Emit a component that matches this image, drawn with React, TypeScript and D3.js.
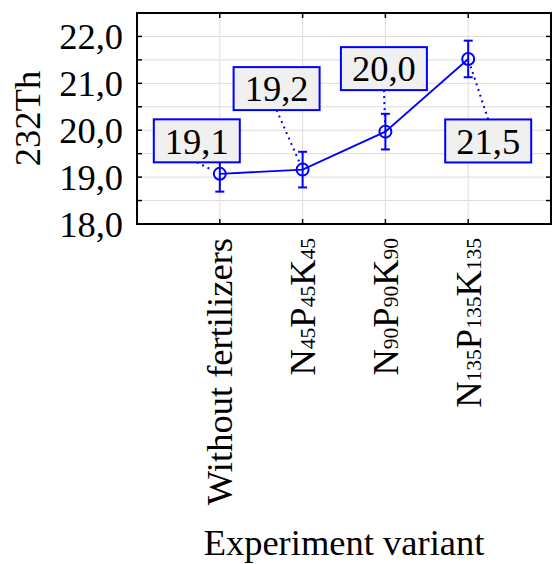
import React from "react";
import * as d3 from "d3";

// values
const categories = ["Without fertilizers", "N45P45K45", "N90P90K90", "N135P135K135"];
const means = [19.07, 19.16, 19.97, 21.52];
const upper = [19.45, 19.54, 20.35, 21.91];
const lower = [18.69, 18.78, 19.59, 21.13];
const labels = ["19,1", "19,2", "20,0", "21,5"];
const yTicks = [18, 19, 20, 21, 22];
const yMinor = [18.5, 19.5, 20.5, 21.5, 22.5];

// label box offset from its point, px
const labelOffsets: [number, number][] = [
  [-23, -33],
  [-26, -81],
  [-1.5, -63],
  [20, 82],
];

// subscript pieces for rotated tick labels
const tickParts: [string, boolean][][] = [
  [["Without fertilizers", false]],
  [["N", false], ["45", true], ["P", false], ["45", true], ["K", false], ["45", true]],
  [["N", false], ["90", true], ["P", false], ["90", true], ["K", false], ["90", true]],
  [["N", false], ["135", true], ["P", false], ["135", true], ["K", false], ["135", true]],
];

const W = 552;
const H = 564;
const m = { left: 137, top: 13, right: 551, bottom: 224 };
const BLUE = "#0000ff";
const FONT = "'Liberation Serif', 'Times New Roman', serif";
const FS = 36.5;

export default function App() {
  const x = d3.scaleLinear().domain([0, categories.length + 1]).range([m.left, m.right]);
  const y = d3.scaleLinear().domain([18, 22.5]).range([m.bottom, m.top]);
  const line = d3
    .line<number>()
    .x((_, i) => x(i + 1))
    .y((d) => y(d));
  const boxW = 86;
  const boxH = 43;
  const r = 6;

  return (
    <svg
      width={W}
      height={H}
      style={{ position: "absolute", left: 0, top: 0, fontFamily: FONT }}
    >
      <rect width={W} height={H} fill="#fff" />
      {/* grid */}
      {[...yTicks, ...yMinor].map((v) => (
        <line key={"gy" + v} x1={m.left} x2={m.right} y1={y(v)} y2={y(v)} stroke="#dcdcdc" strokeWidth={1} />
      ))}
      {categories.map((c, i) => (
        <line key={"gx" + c} x1={x(i + 1)} x2={x(i + 1)} y1={m.top} y2={m.bottom} stroke="#dcdcdc" strokeWidth={1} />
      ))}
      {/* inward ticks */}
      {[...yTicks, ...yMinor].map((v) => (
        <g key={"t" + v}>
          <line x1={m.left} x2={m.left + 5} y1={y(v)} y2={y(v)} stroke="#000" strokeWidth={1.5} />
          <line x1={m.right} x2={m.right - 5} y1={y(v)} y2={y(v)} stroke="#000" strokeWidth={1.5} />
        </g>
      ))}
      {categories.map((c, i) => (
        <g key={"tx" + c}>
          <line x1={x(i + 1)} x2={x(i + 1)} y1={m.top} y2={m.top + 5} stroke="#000" strokeWidth={1.5} />
          <line x1={x(i + 1)} x2={x(i + 1)} y1={m.bottom} y2={m.bottom - 5} stroke="#000" strokeWidth={1.5} />
        </g>
      ))}
      <rect
        x={m.left}
        y={m.top}
        width={m.right - m.left}
        height={m.bottom - m.top}
        fill="none"
        stroke="#000"
        strokeWidth={2}
      />
      {/* y tick labels */}
      {yTicks.map((v) => (
        <text key={"yl" + v} x={m.left - 14} y={y(v)} dy="0.35em" textAnchor="end" fontSize={FS}>
          {d3.format(".1f")(v).replace(".", ",")}
        </text>
      ))}
      <text
        transform={`translate(40,${(m.top + m.bottom) / 2}) rotate(-90)`}
        textAnchor="middle"
        fontSize={FS}
      >
        232Th
      </text>
      {/* x tick labels */}
      {tickParts.map((parts, i) => (
        <text
          key={"xl" + i}
          transform={`translate(${x(i + 1) + 12.5},${m.bottom + 14}) rotate(-90)`}
          textAnchor="end"
          fontSize={FS}
        >
          {parts.map(([s, sub], j) => (
            <tspan key={j} fontSize={sub ? 21.5 : FS}>
              {s}
            </tspan>
          ))}
        </text>
      ))}
      <text x={344} y={555} textAnchor="middle" fontSize={FS}>
        Experiment variant
      </text>
      {/* error bars */}
      {means.map((v, i) => (
        <g key={"e" + i} stroke={BLUE} strokeWidth={2}>
          <line x1={x(i + 1)} x2={x(i + 1)} y1={y(upper[i])} y2={y(lower[i])} />
          <line x1={x(i + 1) - 4.5} x2={x(i + 1) + 4.5} y1={y(upper[i])} y2={y(upper[i])} />
          <line x1={x(i + 1) - 4.5} x2={x(i + 1) + 4.5} y1={y(lower[i])} y2={y(lower[i])} />
        </g>
      ))}
      <path d={line(means) ?? ""} fill="none" stroke={BLUE} strokeWidth={1.8} />
      {means.map((v, i) => (
        <circle key={"c" + i} cx={x(i + 1)} cy={y(v)} r={r} fill="none" stroke={BLUE} strokeWidth={2} />
      ))}
      {/* labels */}
      {means.map((v, i) => {
        const px = x(i + 1);
        const py = y(v);
        const cx = px + labelOffsets[i][0];
        const cy = py + labelOffsets[i][1];
        const ey = cy < py ? cy + boxH / 2 : cy - boxH / 2;
        const dx = px - cx;
        const dy = py - ey;
        const len = Math.hypot(dx, dy);
        const ex = px - (dx / len) * (r + 2);
        const eyEnd = py - (dy / len) * (r + 2);
        return (
          <g key={"l" + i}>
            <line
              x1={cx}
              y1={ey}
              x2={ex}
              y2={eyEnd}
              stroke={BLUE}
              strokeWidth={2}
              strokeDasharray="2,4"
            />
            <rect
              x={cx - boxW / 2}
              y={cy - boxH / 2}
              width={boxW}
              height={boxH}
              fill="#f0f0f0"
              stroke={BLUE}
              strokeWidth={2}
            />
            <text x={cx} y={cy} dy="0.35em" textAnchor="middle" fontSize={FS}>
              {labels[i]}
            </text>
          </g>
        );
      })}
    </svg>
  );
}
